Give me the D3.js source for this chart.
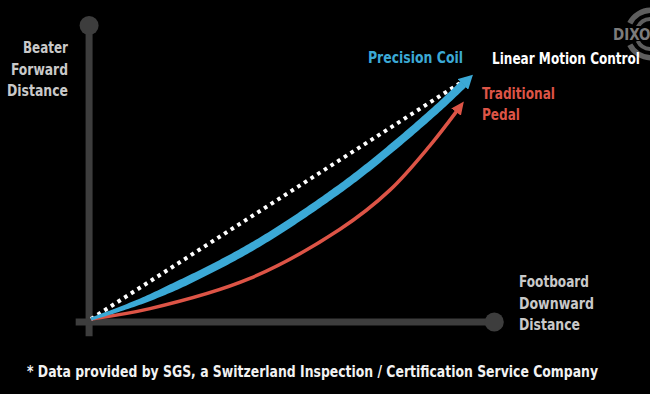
<!DOCTYPE html>
<html>
<head>
<meta charset="utf-8">
<script src="https://cdn.jsdelivr.net/npm/d3@7"></script>
<style>
  html, body { margin: 0; padding: 0; background: #000; }
  svg { display: block; }
  text { font-family: "DejaVu Sans", "Liberation Sans", sans-serif; font-stretch: condensed; font-weight: bold; }
</style>
</head>
<body>
<div id="chart"></div>
<script>
// curve samples, x = footboard downward distance, y = beater forward distance (0-100)
const linearX = [0, 99];
const linearY = [0, 98.5];
const coilX = [0, 15.4, 41.5, 65, 78.1, 91.1, 97.2];
const coilY = [0, 8.7, 28.9, 53, 69, 86.5, 95.5];
const pedalX = [0, 15.4, 41.5, 65, 78.1, 88.5, 95.4];
const pedalY = [0, 4.2, 16.5, 36.5, 52.5, 70.5, 84.3];

const yLabel = ["Beater", "Forward", "Distance"];
const xLabel = ["Footboard", "Downward", "Distance"];
const pedalLabel = ["Traditional", "Pedal"];

const width = 650, height = 394;

const svg = d3
  .select("#chart")
  .append("svg")
  .attr("width", width)
  .attr("height", height);

let x = d3.scaleLinear().domain([0, 100]).range([91, 474]);
let y = d3.scaleLinear().domain([0, 100]).range([319, 73]);

const axisColor = "#3d3d3d";
const blue = "#3ba9d6";
const red = "#dd5446";

// logo, top right (behind the labels)
const logo = svg.append("g").attr("transform", "translate(651,34)");
const outerRing = d3.arc().innerRadius(21).outerRadius(26.5);
const innerRing = d3.arc().innerRadius(13).outerRadius(17);
[outerRing, innerRing].forEach((arc) => {
  logo.append("path")
    .attr("d", arc({ startAngle: -1.1, endAngle: 1.1 }))
    .attr("fill", "#5e5e5e");
  logo.append("path")
    .attr("d", arc({ startAngle: Math.PI - 1.1, endAngle: Math.PI + 1.1 }))
    .attr("fill", "#5e5e5e");
});
logo.append("rect")
  .attr("x", -40).attr("y", -8).attr("width", 40).attr("height", 15)
  .attr("fill", "#000");
logo.append("text")
  .attr("x", -38).attr("y", 5.5)
  .attr("fill", "#7c7c7c")
  .style("font-size", "15px")
  .text("DIXON");

// axes
svg.append("line")
  .attr("x1", x(-0.5)).attr("x2", x(-0.5))
  .attr("y1", y(-7)).attr("y2", y(119))
  .attr("stroke", axisColor).attr("stroke-width", 7);
svg.append("circle")
  .attr("cx", x(-0.5)).attr("cy", y(119.3)).attr("r", 9.5)
  .attr("fill", axisColor);
svg.append("line")
  .attr("x1", x(-4)).attr("x2", x(105))
  .attr("y1", y(-1.2)).attr("y2", y(-1.2))
  .attr("stroke", axisColor).attr("stroke-width", 7);
svg.append("circle")
  .attr("cx", x(105.3)).attr("cy", y(-1.2)).attr("r", 9.5)
  .attr("fill", axisColor);

// arrow heads
const defs = svg.append("defs");
function arrowHead(id, color, len, wid) {
  defs.append("marker")
    .attr("id", id)
    .attr("markerUnits", "userSpaceOnUse")
    .attr("viewBox", `0 ${-wid / 2} ${len} ${wid}`)
    .attr("refX", 0.5)
    .attr("refY", 0)
    .attr("markerWidth", len)
    .attr("markerHeight", wid)
    .attr("orient", "auto")
    .append("path")
    .attr("d", `M0,${-wid / 2}L${len},0L0,${wid / 2}Z`)
    .attr("fill", color);
}
arrowHead("headBlue", blue, 14, 15);
arrowHead("headRed", red, 13, 12);

let line = d3
  .line()
  .x((d) => x(d[0]))
  .y((d) => y(d[1]))
  .curve(d3.curveCatmullRom.alpha(0.5));

// linear motion (dotted)
svg.append("path")
  .datum(linearX.map((v, i) => [v, linearY[i]]))
  .attr("d", line)
  .attr("fill", "none")
  .attr("stroke", "#ffffff")
  .attr("stroke-width", 4)
  .attr("stroke-dasharray", "3.6,4.3");

// traditional pedal
svg.append("path")
  .datum(pedalX.map((v, i) => [v, pedalY[i]]))
  .attr("d", line)
  .attr("fill", "none")
  .attr("stroke", red)
  .attr("stroke-width", 3.5)
  .attr("marker-end", "url(#headRed)");

// precision coil: stroke that widens away from the origin
const coilPath = svg.append("path")
  .datum(coilX.map((v, i) => [v, coilY[i]]))
  .attr("d", line)
  .attr("fill", "none")
  .attr("stroke", "none")
  .attr("marker-end", "url(#headBlue)");

const node = coilPath.node();
const total = node.getTotalLength();
const n = 160;
let left = [], right = [];
for (let i = 0; i <= n; i++) {
  let s = (total * i) / n;
  let p = node.getPointAtLength(s);
  let a = node.getPointAtLength(Math.max(0, s - 1));
  let b = node.getPointAtLength(Math.min(total, s + 1));
  let dx = b.x - a.x, dy = b.y - a.y;
  let len = Math.hypot(dx, dy) || 1;
  let w = (3 + 5 * Math.min(1, s / 90)) / 2;
  left.push([p.x - (dy / len) * w, p.y + (dx / len) * w]);
  right.push([p.x + (dy / len) * w, p.y - (dx / len) * w]);
}
svg.insert("path", () => node)
  .attr("d", "M" + left.concat(right.reverse()).join("L") + "Z")
  .attr("fill", blue);

// labels
const yLabelW = [45, 57, 61];
svg.selectAll(".ylab")
  .data(yLabel)
  .join("text")
  .attr("class", "ylab")
  .attr("x", 68)
  .attr("y", (d, i) => 53 + i * 21.5)
  .attr("text-anchor", "end")
  .attr("fill", "#c9c9c9")
  .style("font-size", "15px")
  .attr("textLength", (d, i) => yLabelW[i])
  .attr("lengthAdjust", "spacingAndGlyphs")
  .text((d) => d);

const xLabelW = [70, 75, 61];
svg.selectAll(".xlab")
  .data(xLabel)
  .join("text")
  .attr("class", "xlab")
  .attr("x", 519)
  .attr("y", (d, i) => 287 + i * 21.5)
  .attr("fill", "#c9c9c9")
  .style("font-size", "15px")
  .attr("textLength", (d, i) => xLabelW[i])
  .attr("lengthAdjust", "spacingAndGlyphs")
  .text((d) => d);

svg.append("text")
  .attr("x", 368).attr("y", 63)
  .attr("fill", blue)
  .style("font-size", "15px")
  .attr("textLength", 95)
  .attr("lengthAdjust", "spacingAndGlyphs")
  .text("Precision Coil");

svg.append("text")
  .attr("x", 492).attr("y", 64)
  .attr("fill", "#ffffff")
  .style("font-size", "15px")
  .attr("textLength", 148)
  .attr("lengthAdjust", "spacingAndGlyphs")
  .text("Linear Motion Control");

const pedalW = [73, 38];
svg.selectAll(".plab")
  .data(pedalLabel)
  .join("text")
  .attr("class", "plab")
  .attr("x", 482)
  .attr("y", (d, i) => 99 + i * 21)
  .attr("fill", red)
  .style("font-size", "15px")
  .attr("textLength", (d, i) => pedalW[i])
  .attr("lengthAdjust", "spacingAndGlyphs")
  .text((d) => d);

svg.append("text")
  .attr("x", 27).attr("y", 377)
  .attr("fill", "#f2f2f2")
  .style("font-size", "15px")
  .attr("textLength", 571)
  .attr("lengthAdjust", "spacingAndGlyphs")
  .text("* Data provided by SGS, a Switzerland Inspection / Certification Service Company");
</script>
</body>
</html>
